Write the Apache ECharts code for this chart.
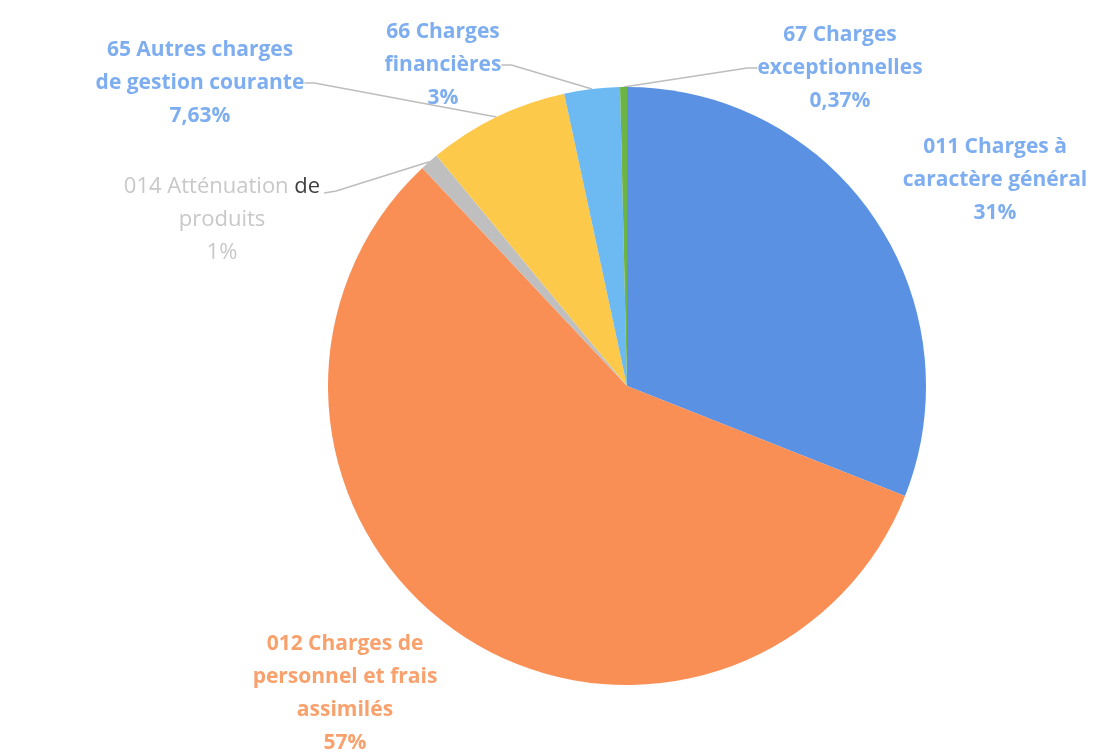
<!DOCTYPE html>
<html><head><meta charset="utf-8">
<script src="https://cdn.jsdelivr.net/npm/echarts@6/dist/echarts.min.js"></script>
<style>html,body{margin:0;padding:0;background:#fff}#c{width:1095px;height:754px}</style>
</head><body><div id="c"></div>
<script>
const categories = ['011 Charges à\ncaractère général', '012 Charges de\npersonnel et frais\nassimilés', '014 Atténuation de\nproduits', '65 Autres charges\nde gestion courante', '66 Charges\nfinancières', '67 Charges\nexceptionnelles'];
const values = [31, 57, 1, 7.63, 3, 0.37];
const percentLabels = ['31%', '57%', '1%', '7,63%', '3%', '0,37%'];

const sliceColors = ['#5B91E2', '#FA8F56', '#BFBFBF', '#FDC94B', '#6CBAF1', '#6CB443'];
const textColors = ['#7EAEF0', '#F9A16C', '#C8C8C8', '#7EAEF0', '#7EAEF0', '#7EAEF0'];
const labelPos = [[995, 180], [345, 694], [222, 220], [200, 83], [443, 65], [840, 68]];
const showLine = [false, false, true, true, true, true];

const chart = echarts.init(document.getElementById('c'), null, {renderer: 'canvas'});
const data = values.map((v, i) => {
  const item = {
    value: v, name: categories[i],
    itemStyle: {color: sliceColors[i]},
    labelLine: {show: showLine[i], lineStyle: {color: '#BDBDBD', width: 1.5}},
    label: {color: textColors[i]}
  };
  if (i === 2) {
    item.label.formatter = '{a|014 Atténuation }{b|de}\n{a|produits}\n{a|1%}';
    item.label.rich = {
      a: {color: '#C8C8C8', fontWeight: 'normal', fontSize: 22, lineHeight: 33, fontFamily: 'Open Sans'},
      b: {color: '#404040', fontWeight: 'normal', fontSize: 22, lineHeight: 33, fontFamily: 'Open Sans'}
    };
  }
  return item;
});

chart.setOption({
  animation: false,
  series: [{
    type: 'pie',
    center: [627, 386],
    radius: 299,
    startAngle: 90,
    clockwise: true,
    data: data,
    label: {
      show: true,
      position: 'outside',
      formatter: p => p.name + '\n' + percentLabels[p.dataIndex],
      fontFamily: 'Open Sans',
      fontWeight: 'bold',
      fontSize: 21,
      lineHeight: 33,
      align: 'center'
    },
    labelLine: {show: true, length: 10, length2: 10, smooth: false},
    labelLayout: function (params) {
      const i = params.dataIndex;
      const p = labelPos[i];
      const res = {x: p[0], y: p[1], align: 'center', verticalAlign: 'middle'};
      if (i === 2 && params.labelLinePoints) {
        const start = params.labelLinePoints[0];
        const endX = p[0] + params.labelRect.width / 2 + 4;
        const endY = p[1] - 27;
        res.labelLinePoints = [start, [endX + 12, endY - 2], [endX, endY]];
      }
      return res;
    }
  }]
});
</script></body></html>
